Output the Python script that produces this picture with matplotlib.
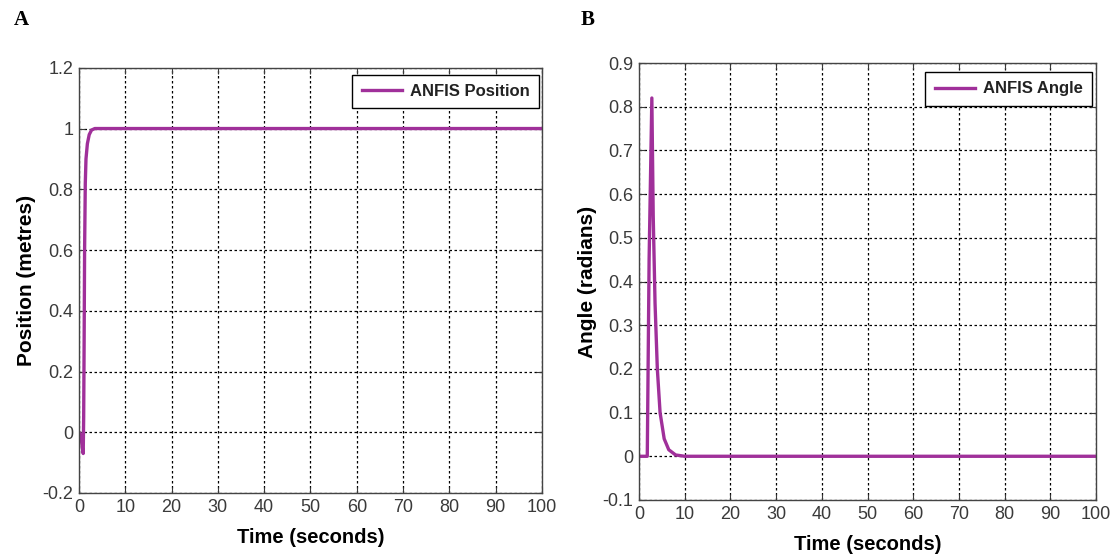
import numpy as np
import matplotlib
matplotlib.use("Agg")
import matplotlib.pyplot as plt
from matplotlib.ticker import FuncFormatter, MultipleLocator

# Panel A: ANFIS position response (metres)
pos_time = [0.0, 0.4, 0.7, 0.9, 1.0, 1.1, 1.2, 1.35, 1.5, 1.8, 2.2, 2.7, 3.4, 5.0, 20.0, 60.0, 100.0]
pos_value = [0.0, -0.01, -0.05, -0.07, 0.05, 0.3, 0.6, 0.82, 0.9, 0.95, 0.98, 0.995, 1.0, 1.0, 1.0, 1.0, 1.0]

# Panel B: ANFIS angle response (radians)
ang_time = [0.0, 1.8, 2.2, 2.8, 3.1, 3.5, 4.0, 4.6, 5.5, 6.5, 8.0, 10.0, 100.0]
ang_value = [0.0, 0.0, 0.45, 0.82, 0.55, 0.35, 0.2, 0.1, 0.04, 0.015, 0.003, 0.0, 0.0]

LINE_COLOR = "#a0309a"
TICK_COLOR = "#3a3a3a"

plt.rcParams["font.family"] = ["Liberation Sans", "DejaVu Sans"]

fig = plt.figure(figsize=(11.18, 5.58), dpi=100)
axA = fig.add_axes([0.0707, 0.1165, 0.414, 0.762])
axB = fig.add_axes([0.5716, 0.104, 0.4088, 0.783])

fmt = FuncFormatter(lambda v, p: "%g" % round(v, 2))


def style_axis(ax, ylim, ystep, xpad):
    ax.set_xlim(0, 100)
    ax.set_ylim(*ylim)
    ax.xaxis.set_major_locator(MultipleLocator(10))
    ax.yaxis.set_major_locator(MultipleLocator(ystep))
    ax.xaxis.set_major_formatter(fmt)
    ax.yaxis.set_major_formatter(fmt)
    ax.grid(True, color="black", linestyle=(0, (2, 2)), linewidth=0.9)
    ax.set_axisbelow(True)
    ax.tick_params(direction="in", length=4, labelsize=13, colors=TICK_COLOR,
                   top=True, right=True, pad=4)
    for s in ax.spines.values():
        s.set_color("#444444")
        s.set_linewidth(1.0)
    ax.set_xlabel("Time (seconds)", fontsize=14.5, fontweight="bold", labelpad=xpad)


def add_legend(ax, anchor):
    leg = ax.legend(loc="upper right", fontsize=12, fancybox=False, framealpha=1,
                    edgecolor="black", handlelength=2.4, borderpad=0.55,
                    handletextpad=0.5, borderaxespad=0, bbox_to_anchor=anchor)
    leg.get_frame().set_linewidth(1.0)
    for t in leg.get_texts():
        t.set_fontweight("bold")
        t.set_color("#222222")
    return leg


axA.plot(pos_time, pos_value, color=LINE_COLOR, linewidth=2.4, label="ANFIS Position")
style_axis(axA, (-0.2, 1.2), 0.2, xpad=9)
axA.set_ylabel("Position (metres)", fontsize=15, fontweight="bold", labelpad=5)
add_legend(axA, (0.9935, 0.9835))

axB.plot(ang_time, ang_value, color=LINE_COLOR, linewidth=2.4, label="ANFIS Angle")
style_axis(axB, (-0.1, 0.9), 0.1, xpad=9)
axB.set_ylabel("Angle (radians)", fontsize=15, fontweight="bold", labelpad=4)
add_legend(axB, (0.991, 0.979))

fig.text(0.012, 0.955, "A", fontsize=15, fontweight="bold", family="Liberation Serif")
fig.text(0.519, 0.955, "B", fontsize=15, fontweight="bold", family="Liberation Serif")

fig.savefig("out.png", dpi=100)
